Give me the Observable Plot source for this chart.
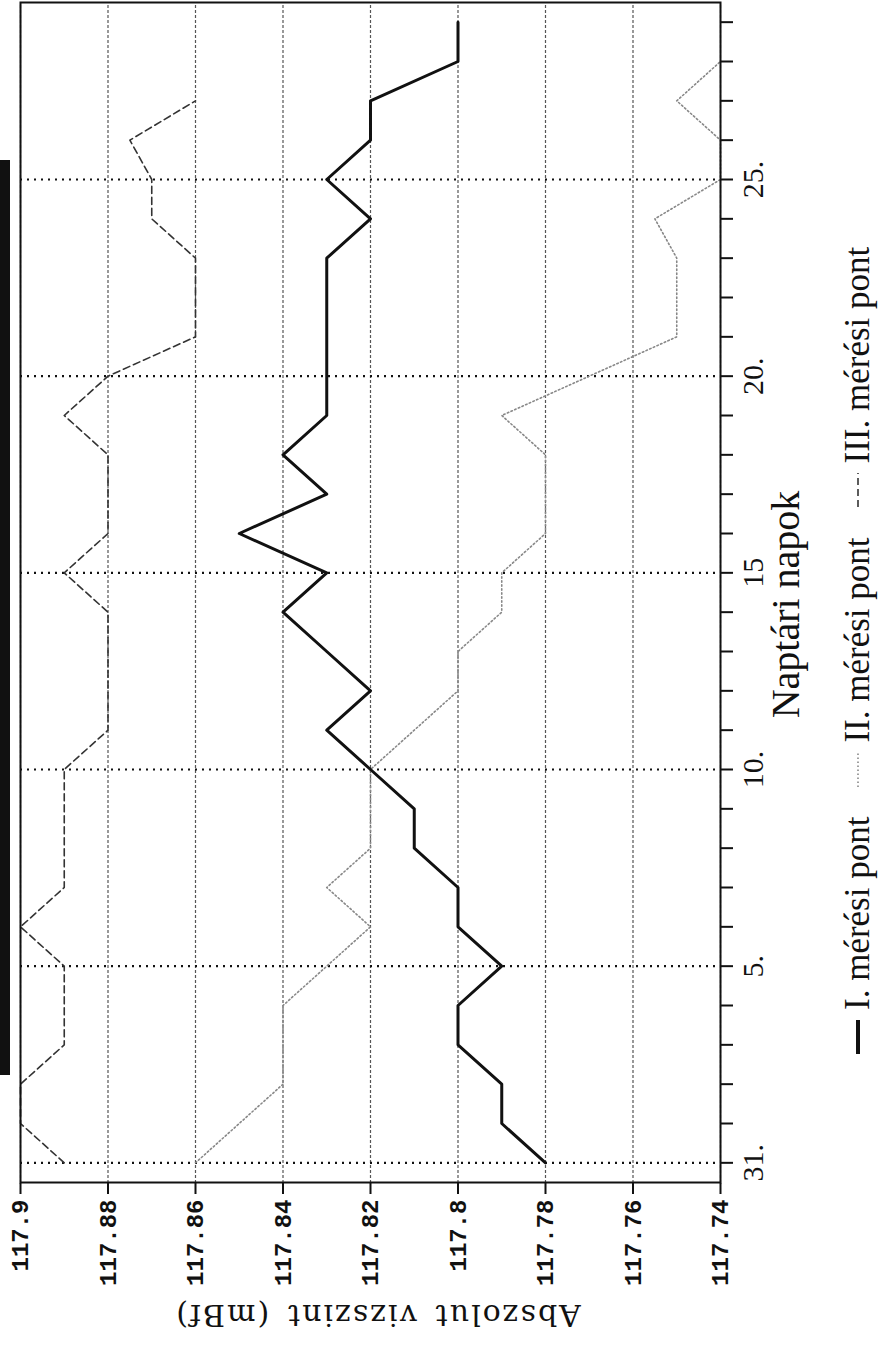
<!DOCTYPE html>
<html>
<head>
<meta charset="utf-8">
<script src="https://cdn.jsdelivr.net/npm/d3@7"></script>
<script src="https://cdn.jsdelivr.net/npm/@observablehq/plot@0.6"></script>
<style>
  html, body { margin: 0; padding: 0; background: #fff; }
  body { width: 886px; height: 1346px; position: relative; overflow: hidden; }
  #rot { position: absolute; left: 0; top: 0; width: 1346px; height: 886px;
         transform-origin: 0 0; transform: translate(0, 1346px) rotate(-90deg); background: #fff; }
  #scanbar { position: absolute; left: 0; top: 160px; width: 10px; height: 915px; background: #111; }
  .legend { display: flex; align-items: center; height: 56px; padding-left: 292px;
            font-family: "Liberation Serif", serif; font-size: 35px; color: #111; }
  .legend .item { display: flex; align-items: center; margin-right: 30px; white-space: nowrap; }
  .legend .item svg { margin-right: 10px; }
</style>
</head>
<body>
<div id="rot"></div>
<div id="scanbar"></div>
<script>
// Calendar days on the horizontal axis (31 = last day of the previous month)
const days = [31, 1, 2, 3, 4, 5, 6, 7, 8, 9, 10, 11, 12, 13, 14, 15, 16, 17, 18, 19, 20, 21, 22, 23, 24, 25, 26, 27, 28, 29];
const labeledDays = [31, 5, 10, 15, 20, 25];
const labeledDayText = ["31.", "5.", "10.", "15", "20.", "25."];

// Absolute water level (mBf)
const seriesI = [117.78, 117.79, 117.79, 117.80, 117.80, 117.79, 117.80, 117.80, 117.81, 117.81,
                 117.82, 117.83, 117.82, 117.83, 117.84, 117.83, 117.85, 117.83, 117.84, 117.83,
                 117.83, 117.83, 117.83, 117.83, 117.82, 117.83, 117.82, 117.82, 117.80, 117.80];
const seriesII = [117.86, 117.85, 117.84, 117.84, 117.84, 117.83, 117.82, 117.83, 117.82, 117.82,
                  117.82, 117.81, 117.80, 117.80, 117.79, 117.79, 117.78, 117.78, 117.78, 117.79,
                  117.77, 117.75, 117.75, 117.75, 117.755, 117.74, 117.74, 117.75, 117.74];
const seriesIII = [117.89, 117.90, 117.90, 117.89, 117.89, 117.89, 117.90, 117.89, 117.89, 117.89,
                   117.89, 117.88, 117.88, 117.88, 117.88, 117.89, 117.88, 117.88, 117.88, 117.89,
                   117.88, 117.86, 117.86, 117.86, 117.87, 117.87, 117.875, 117.86];

const valueTicks = [117.74, 117.76, 117.78, 117.80, 117.82, 117.84, 117.86, 117.88, 117.90];
const valueTickLabels = ["117.74", "117.76", "117.78", "117.8", "117.82", "117.84", "117.86", "117.88", "117.9"];

const xTitle = "Naptári napok";
const yTitle = "Abszolut\u2002vizszint\u2002(mBf)";
const legendLabels = ["I. mérési pont", "II. mérési pont", "III. mérési pont"];

const styles = [
  {stroke: "#111", strokeWidth: 3, dash: null},
  {stroke: "#888", strokeWidth: 1.6, dash: "1.5,2.5"},
  {stroke: "#333", strokeWidth: 1.6, dash: "7,4"}
];

const rows = (vals) => vals.map((v, i) => ({i, v}));
const xIdx = days.map((d, i) => i);
const dayLabelMap = new Map(labeledDays.map((d, k) => [days.indexOf(d), labeledDayText[k]]));
const valueLabelMap = new Map(valueTicks.map((v, k) => [v, valueTickLabels[k]]));

const chart = Plot.plot({
  width: 1346,
  height: 830,
  marginTop: 20,
  marginBottom: 110,
  marginLeft: 163,
  marginRight: 3,
  style: {background: "white", color: "#111", overflow: "visible"},
  x: {domain: [-0.5, 29.5]},
  y: {domain: [117.74, 117.9]},
  marks: [
    Plot.ruleY(valueTicks, {stroke: "#555", strokeWidth: 1.2, strokeDasharray: "3,2"}),
    Plot.ruleX(labeledDays.map(d => days.indexOf(d)), {stroke: "#111", strokeWidth: 2.2, strokeDasharray: "2,5"}),
    Plot.line(rows(seriesIII), {x: "i", y: "v", stroke: styles[2].stroke, strokeWidth: styles[2].strokeWidth, strokeDasharray: styles[2].dash}),
    Plot.line(rows(seriesII), {x: "i", y: "v", stroke: styles[1].stroke, strokeWidth: styles[1].strokeWidth, strokeDasharray: styles[1].dash}),
    Plot.line(rows(seriesI), {x: "i", y: "v", stroke: styles[0].stroke, strokeWidth: styles[0].strokeWidth}),
    Plot.frame({stroke: "#111", strokeWidth: 2}),
    Plot.axisX(xIdx, {tickSize: 13, tickPadding: 8, tickFormat: i => dayLabelMap.get(i) ?? "",
                      fontSize: 30, fontFamily: "Liberation Serif", strokeWidth: 2, label: null}),
    Plot.axisY(valueTicks, {tickSize: 11, tickPadding: 6, tickFormat: v => valueLabelMap.get(v),
                            fontSize: 24, fontFamily: "Liberation Mono", fontWeight: "bold", strokeWidth: 2, label: null}),
    Plot.text([xTitle], {text: d => d, frameAnchor: "bottom", textAnchor: "middle", dy: 78, dx: -12, fontSize: 40, fontFamily: "Liberation Serif"}),
    Plot.text([yTitle], {text: d => d, frameAnchor: "left", textAnchor: "middle", rotate: -90, dx: -132, dy: 7, fontSize: 30, fontFamily: "DejaVu Serif"})
  ]
});

const rot = document.getElementById("rot");
rot.appendChild(chart);

// legend
const legend = document.createElement("div");
legend.className = "legend";
legendLabels.forEach((lab, k) => {
  const item = document.createElement("div");
  item.className = "item";
  const s = styles[k];
  const ns = "http://www.w3.org/2000/svg";
  const svg = document.createElementNS(ns, "svg");
  svg.setAttribute("width", 34);
  svg.setAttribute("height", 10);
  const ln = document.createElementNS(ns, "line");
  ln.setAttribute("x1", 0); ln.setAttribute("x2", 34);
  ln.setAttribute("y1", 5); ln.setAttribute("y2", 5);
  ln.setAttribute("stroke", s.stroke);
  ln.setAttribute("stroke-width", s.strokeWidth + (k === 0 ? 1 : 0));
  if (s.dash) ln.setAttribute("stroke-dasharray", s.dash);
  svg.appendChild(ln);
  item.appendChild(svg);
  const t = document.createElement("span");
  t.textContent = lab;
  item.appendChild(t);
  legend.appendChild(item);
});
rot.appendChild(legend);

// spread the letters of the vertical-axis title like the original typesetting
d3.select(chart).selectAll("text").filter(function () { return this.textContent.startsWith("Abszolut"); })
  .style("letter-spacing", "2px");
</script>
</body>
</html>
